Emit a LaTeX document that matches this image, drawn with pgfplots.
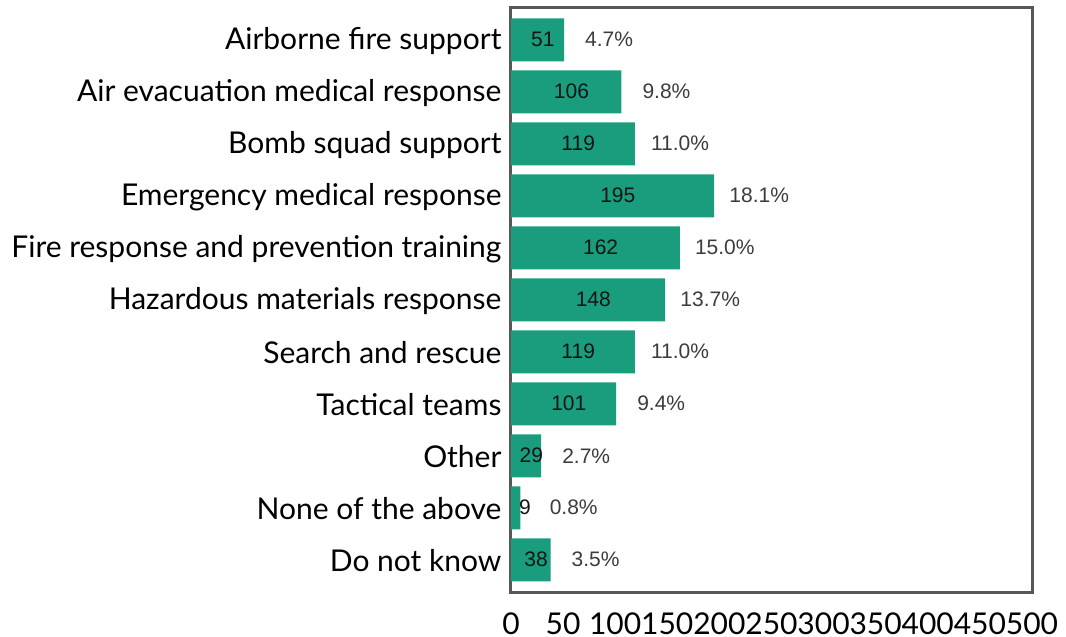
\documentclass[border=0pt]{standalone}
\usepackage{pgfplots}
\pgfplotsset{compat=1.18}
\usepackage{pgfplotstable}
\usepackage{fontspec}
\setmainfont{Lato}
\newfontfamily\arialf{Liberation Sans}
\definecolor{barc}{RGB}{26,157,125}
\definecolor{framec}{RGB}{88,88,88}
\definecolor{pctc}{RGB}{60,60,60}
\definecolor{valc}{RGB}{20,20,20}
\pgfplotstableread{
y v p
0 51 4.7
1 106 9.8
2 119 11.0
3 195 18.1
4 162 15.0
5 148 13.7
6 119 11.0
7 101 9.4
8 29 2.7
9 9 0.8
10 38 3.5
}\data
\begin{document}
\begin{tikzpicture}
\useasboundingbox (0,0) rectangle (1066pt,637pt);
\begin{axis}[
  at={(511pt,45pt)}, anchor=south west,
  scale only axis, width=521pt, height=585pt,
  xmin=0, xmax=500, ymin=-0.63, ymax=10.62, y dir=reverse,
  axis line style={draw=framec, line width=3pt},
  xtick={0,50,...,500}, ytick={0,...,10},
  yticklabels={Airborne fire support,Air evacuation medical response,Bomb squad support,Emergency medical response,Fire response and prevention training,Hazardous materials response,Search and rescue,Tactical teams,Other,None of the above,Do not know},
  major tick length=0pt,
  tick label style={font=\fontsize{30}{32}\selectfont},
  /pgf/number format/assume math mode=true,
  /pgf/number format/1000 sep={},
  xticklabel style={anchor=base, yshift=-42pt, inner ysep=0.5pt, inner xsep=0pt},
  yticklabel style={xshift=-6pt, yshift=-1pt},
  clip=false,
]
\addplot[xbar, bar width=43pt, bar shift=0pt, fill=barc, draw=none] table[x=v, y=y] {\data};
\addplot[draw=none, mark=none, point meta=explicit symbolic,
  nodes near coords={\pgfplotspointmeta},
  every node near coord/.append style={anchor=center, text=valc, font=\arialf\fontsize{21}{23}\selectfont}]
  table[x expr={max(\thisrow{v},17)/2+5}, y=y, meta=v] {\data};
\addplot[draw=none, mark=none, point meta=explicit symbolic,
  nodes near coords={\pgfplotspointmeta\%},
  every node near coord/.append style={anchor=center, xshift=45pt, text=pctc, font=\arialf\fontsize{21}{23}\selectfont}]
  table[x expr={max(\thisrow{v},17)}, y=y, meta=p] {\data};
\end{axis}
\end{tikzpicture}
\end{document}
